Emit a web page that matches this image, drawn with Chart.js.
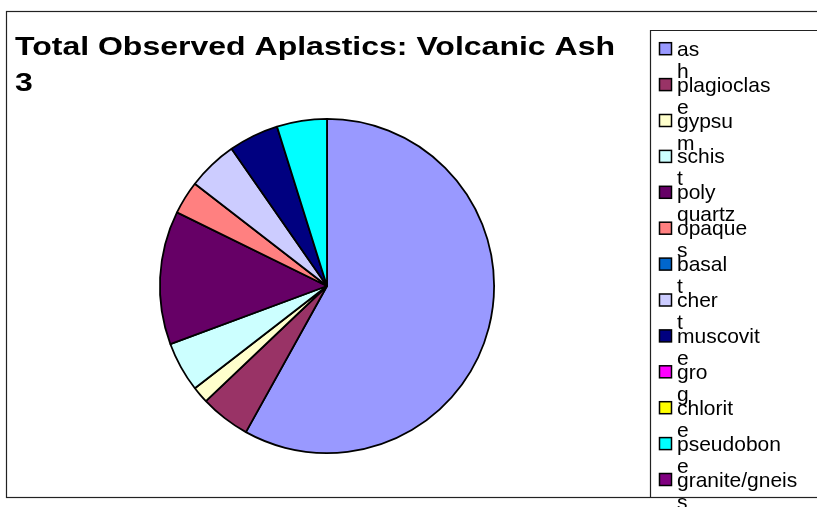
<!DOCTYPE html>
<html>
<head>
<meta charset="utf-8">
<script src="https://cdn.jsdelivr.net/npm/chart.js@4/dist/chart.umd.min.js"></script>
<style>
  html, body { margin: 0; padding: 0; background: #fff; }
  #wrap { width: 817px; height: 507px; }
</style>
</head>
<body>
<div id="wrap"><canvas id="chart"></canvas></div>
<script>
const titleLines = ['Total Observed Aplastics: Volcanic Ash', '3']
const labels = ['ash', 'plagioclase', 'gypsum', 'schist', 'poly quartz', 'opaques', 'basalt',
  'chert', 'muscovite', 'grog', 'chlorite', 'pseudobone', 'granite/gneiss']
const counts = [36, 3, 1, 3, 8, 2, 0, 3, 3, 0, 0, 3, 0]
const colors = ['#9999FF', '#993366', '#FFFFCC', '#CCFFFF', '#660066', '#FF8080', '#0066CC',
  '#CCCCFF', '#000080', '#FF00FF', '#FFFF00', '#00FFFF', '#800080']

// excel-ish wrapping: break at the space, otherwise push the last letter down
const wrapLabel = (s) => s.includes(' ') ? s.split(' ') : [s.slice(0, -1), s.slice(-1)]

const frame = {
  id: 'frame',
  beforeDraw(chart) {
    const ctx = chart.ctx
    ctx.save()
    ctx.fillStyle = '#fff'
    ctx.fillRect(0, 0, chart.width, chart.height)
    ctx.strokeStyle = '#222'
    ctx.lineWidth = 1.2
    ctx.strokeRect(6.5, 11.5, chart.width, 486)
    ctx.beginPath()
    ctx.moveTo(chart.width, 30.5)
    ctx.lineTo(650.5, 30.5)
    ctx.lineTo(650.5, 497.5)
    ctx.stroke()
    ctx.restore()
  },
  afterDraw(chart) {
    const ctx = chart.ctx
    ctx.save()
    ctx.fillStyle = '#000'
    ctx.textBaseline = 'alphabetic'
    ctx.font = 'bold 26px "Liberation Sans", Arial, sans-serif'
    // the original title is drawn a bit stretched sideways
    const w = ctx.measureText(titleLines[0]).width
    const sx = 600 / w
    titleLines.forEach((t, i) => {
      ctx.save()
      ctx.translate(15, 54.5 + i * 36)
      ctx.scale(sx, 1)
      ctx.fillText(t, 0, 0)
      ctx.restore()
    })

    const ds = chart.data.datasets[0]
    ctx.font = '21px "Liberation Sans", Arial, sans-serif'
    chart.data.labels.forEach((label, i) => {
      const cy = 48.7 + i * 35.9
      ctx.fillStyle = ds.backgroundColor[i]
      ctx.fillRect(659.5, cy - 6, 12, 12)
      ctx.strokeStyle = '#000'
      ctx.lineWidth = 1.5
      ctx.strokeRect(659.5, cy - 6, 12, 12)
      ctx.fillStyle = '#000'
      wrapLabel(label).forEach((line, j) => ctx.fillText(line, 677, cy + 7 + j * 22))
    })
    ctx.restore()
  }
}

new Chart(document.getElementById('chart'), {
  type: 'pie',
  data: {
    labels,
    datasets: [{
      data: counts,
      backgroundColor: colors,
      borderColor: '#000',
      borderWidth: 1.8
    }]
  },
  options: {
    responsive: true,
    maintainAspectRatio: false,
    animation: false,
    layout: { padding: { left: 159, right: 322, top: 118, bottom: 53 } },
    plugins: {
      legend: { display: false },
      title: { display: false },
      tooltip: { enabled: false }
    }
  },
  plugins: [frame]
})
</script>
</body>
</html>
